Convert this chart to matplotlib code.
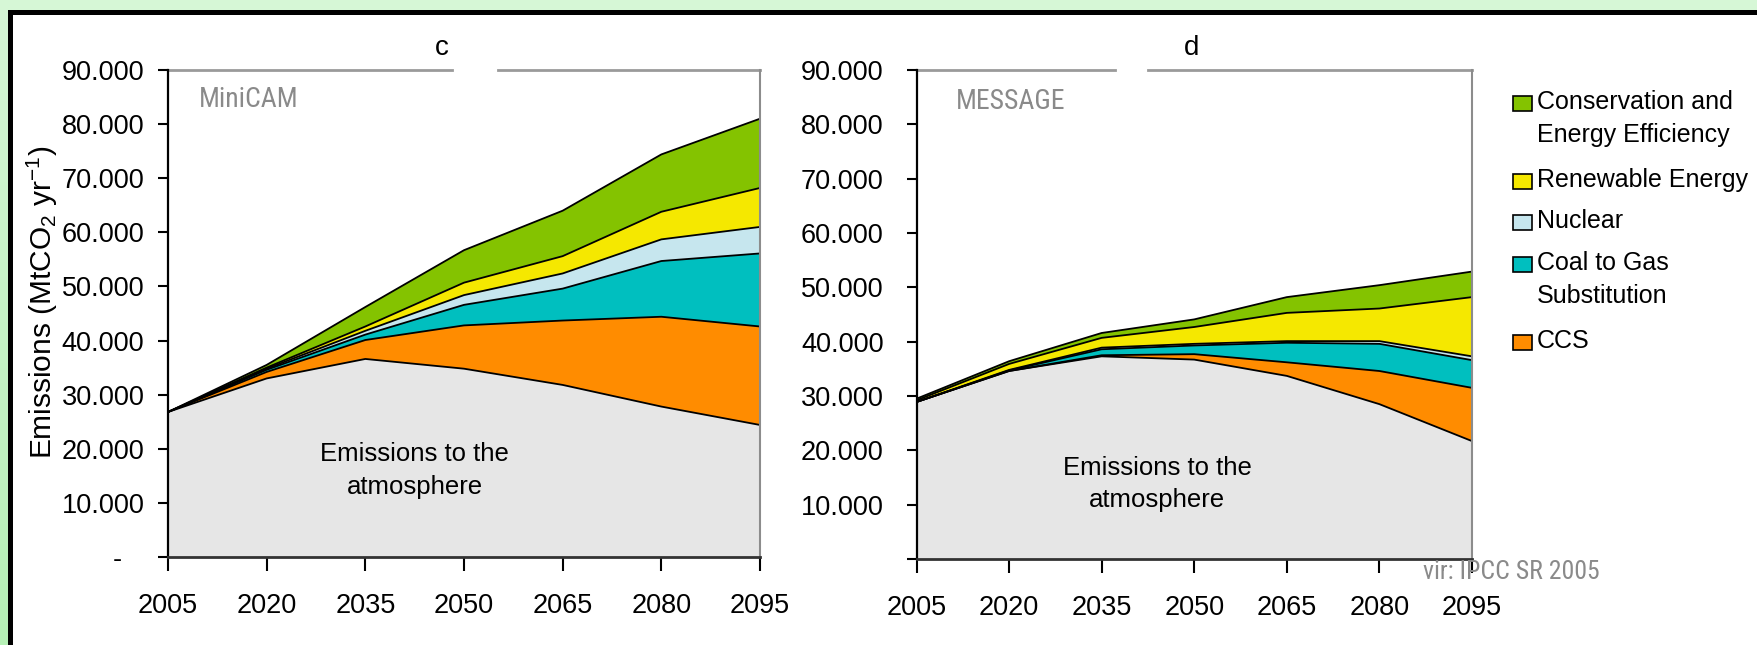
import numpy as np
import matplotlib
matplotlib.use("Agg")
import matplotlib.pyplot as plt
from matplotlib.patches import Rectangle
from matplotlib.colors import LinearSegmentedColormap
from matplotlib import font_manager

plt.rcParams['font.family'] = ['Liberation Sans', 'DejaVu Sans']
plt.rcParams['mathtext.fontset'] = 'custom'
plt.rcParams['mathtext.rm'] = 'Liberation Sans'
plt.rcParams['mathtext.it'] = 'Liberation Sans:italic'

# ---------------- data (thousand MtCO2 / yr) ----------------
years = [2005, 2020, 2035, 2050, 2065, 2080, 2095]
categories = ["Conservation and\nEnergy Efficiency", "Renewable Energy", "Nuclear",
              "Coal to Gas\nSubstitution", "CCS"]

# MiniCAM (panel c)
mc_emissions    = [26.8, 33.0, 36.6, 34.8, 31.8, 27.8, 24.4]
mc_ccs          = [0.0, 1.2, 3.5, 8.0, 11.9, 16.6, 18.2]
mc_coal_gas     = [0.0, 0.4, 1.0, 3.8, 5.9, 10.3, 13.5]
mc_nuclear      = [0.0, 0.2, 0.7, 1.8, 2.8, 4.0, 4.9]
mc_renewable    = [0.0, 0.2, 0.8, 2.3, 3.2, 5.1, 7.2]
mc_conservation = [0.0, 0.5, 3.6, 6.0, 8.4, 10.6, 12.8]

# MESSAGE (panel d)
ms_emissions    = [28.9, 34.6, 37.3, 36.7, 33.7, 28.5, 21.7]
ms_ccs          = [0.0, 0.0, 0.2, 1.0, 2.5, 6.1, 9.8]
ms_coal_gas     = [0.0, 0.1, 1.1, 1.6, 3.6, 5.0, 5.1]
ms_nuclear      = [0.0, 0.1, 0.3, 0.3, 0.3, 0.5, 0.7]
ms_renewable    = [0.3, 1.1, 1.8, 3.1, 5.2, 6.0, 10.9]
ms_conservation = [0.3, 0.5, 0.9, 1.4, 2.9, 4.3, 4.7]

y_ticks = [0, 10, 20, 30, 40, 50, 60, 70, 80, 90]
y_labels_left = ["-   ", "10.000", "20.000", "30.000", "40.000", "50.000",
                 "60.000", "70.000", "80.000", "90.000"]
y_labels_right = ["", "10.000", "20.000", "30.000", "40.000", "50.000",
                  "60.000", "70.000", "80.000", "90.000"]

# ---------------- style ----------------
c_emis = "#e6e6e6"
c_ccs = "#ff8c00"
c_coal = "#00bfbf"
c_nuc = "#c6e6ee"
c_ren = "#f5e800"
c_cons = "#84c300"
layer_colors = [c_emis, c_ccs, c_coal, c_nuc, c_ren, c_cons]
legend_colors = [c_cons, c_ren, c_nuc, c_coal, c_ccs]

# pick a condensed face for the grey annotations if one is installed
_names = {f.name for f in font_manager.fontManager.ttflist}
_cond = [("Liberation Sans Narrow", 1.0), ("DejaVu Sans Condensed", 0.93),
         ("Roboto Condensed", 0.95)]
cond_family, cond_scale = "Liberation Sans", 0.84
for nm, sc in _cond:
    if nm in _names:
        cond_family, cond_scale = nm, sc
        break

W, H = 1758, 645
fig = plt.figure(figsize=(W / 100, H / 100), dpi=100)
fig.patch.set_facecolor("white")

# background frame (slide-like)
bg = fig.add_axes([0, 0, 1, 1], zorder=-10)
bg.set_xlim(0, W)
bg.set_ylim(H, 0)
bg.axis("off")
grad = np.linspace(0, 1, 256).reshape(-1, 1)
gcmap = LinearSegmentedColormap.from_list("g", ["#d6f7d6", "#b6f0b6"])
bg.imshow(grad, cmap=gcmap, extent=[0, 8, H, 0], aspect="auto")
bg.add_patch(Rectangle((0, 0), W, 10, color="#d6f7d6", lw=0))
bg.add_patch(Rectangle((8, 10), 5, H, color="black", lw=0))
bg.add_patch(Rectangle((8, 10), W, 5, color="black", lw=0))


def panel(rect, layers, title, title_x, gap, model, model_pos, emis_pos, ylabels, ypad):
    ax = fig.add_axes(rect)
    ax.stackplot(years, *layers, colors=layer_colors, linewidth=0)
    cum = np.cumsum(np.array(layers), axis=0)
    for row in cum:
        ax.plot(years, row, color="black", lw=1.3, solid_joinstyle="round")
    ax.set_xlim(years[0], years[-1])
    ax.set_ylim(0, 90)
    ax.set_xticks(years)
    ax.set_xticklabels([str(y) for y in years])
    ax.set_yticks(y_ticks)
    ax.set_yticklabels(ylabels)
    ax.tick_params(axis="y", direction="out", length=7, width=1.5, labelsize=19.5, pad=ypad)
    ax.tick_params(axis="x", direction="out", length=10, width=1.5, labelsize=19.5, pad=16)
    ax.spines["top"].set_visible(False)
    ax.spines["right"].set_color("#8c8c8c")
    ax.spines["right"].set_linewidth(1.5)
    ax.spines["left"].set_linewidth(1.6)
    ax.spines["bottom"].set_linewidth(2)
    ax.spines["bottom"].set_color("#333333")
    for seg in ([0, gap[0]], [gap[1], 1]):
        ax.plot(seg, [1, 1], transform=ax.transAxes, color="#9a9a9a", lw=2, clip_on=False)
    ax.text(title_x, 1.045, title, transform=ax.transAxes, ha="center", va="center",
            fontsize=20)
    ax.text(model_pos[0], model_pos[1], model, transform=ax.transAxes, ha="left", va="center",
            fontsize=21 * cond_scale, color="#8a8a8a", family=[cond_family, "Liberation Sans"])
    ax.text(emis_pos[0], emis_pos[1], "Emissions to the\natmosphere", transform=ax.transAxes,
            ha="center", va="center", fontsize=18.5, linespacing=1.45)
    return ax


mc_layers = [mc_emissions, mc_ccs, mc_coal_gas, mc_nuclear, mc_renewable, mc_conservation]
ms_layers = [ms_emissions, ms_ccs, ms_coal_gas, ms_nuclear, ms_renewable, ms_conservation]

panel([168 / W, 88 / H, 592 / W, 487 / H], mc_layers, "c", 0.463, (0.479, 0.557),
      "MiniCAM", (0.052, 0.94), (0.417, 0.178), y_labels_left, 10)
panel([916.5 / W, 86 / H, 555.5 / W, 489 / H], ms_layers, "d", 0.496, (0.357, 0.417),
      "MESSAGE", (0.07, 0.935), (0.433, 0.153), y_labels_right, 16.5)

fig.text(42 / W, 1 - 302 / H, "Emissions (MtCO$_2$ yr$^{-1}$)", rotation=90,
         ha="center", va="center", fontsize=21.5)

# legend (manual, to keep swatches aligned with the first text line)
y = 103.0
for lab, col in zip(categories, legend_colors):
    bg.add_patch(Rectangle((1513, y - 7.5), 19, 15, facecolor=col, edgecolor="black", lw=1.2))
    bg.text(1537, y - 13, lab, ha="left", va="top", fontsize=18, linespacing=1.45)
    nlines = lab.count("\n") + 1
    y += 36.5 * nlines + 5

fig.text(1423 / W, 1 - 572 / H, "vir: IPCC SR 2005", ha="left", va="center",
         fontsize=19.5 * cond_scale, color="#8a8a8a", family=[cond_family, "Liberation Sans"])

fig.savefig("out.png", dpi=100, facecolor="white")
